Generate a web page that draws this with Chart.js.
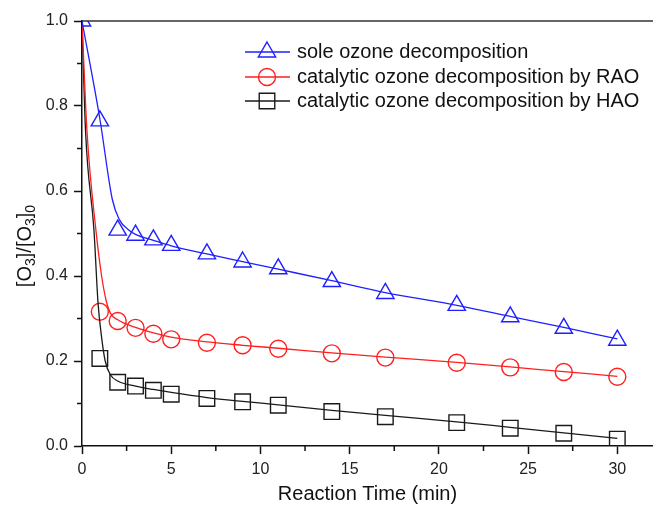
<!DOCTYPE html>
<html>
<head>
<meta charset="utf-8">
<script src="https://cdn.jsdelivr.net/npm/chart.js@4.4.0/dist/chart.umd.min.js"></script>
<style>
  body { margin: 0; background: #fff; }
  canvas { display: block; }
</style>
</head>
<body>
<canvas id="ozone__chart" width="653" height="508"></canvas>
<script>
// sampling times (min) of the measured points
const times = [0, 1, 2, 3, 4, 5, 7, 9, 11, 14, 17, 21, 24, 27, 30];
const soleOzone = [1.0, 0.765, 0.508, 0.496, 0.485, 0.472, 0.452, 0.433, 0.417, 0.387, 0.359, 0.331, 0.304, 0.277, 0.249];
const raoOzone = [null, 0.316, 0.294, 0.278, 0.264, 0.251, 0.243, 0.237, 0.229, 0.218, 0.208, 0.196, 0.185, 0.174, 0.163];
const haoOzone = [null, 0.206, 0.150, 0.141, 0.131, 0.122, 0.112, 0.104, 0.096, 0.081, 0.069, 0.055, 0.042, 0.030, 0.016];

// fitted curves
const soleFitT = [0, 1, 1.7, 2.1, 2.6, 3, 4, 5, 7, 9, 11, 14, 17, 21, 24, 27, 30];
const soleFit = [1.0, 0.77, 0.58, 0.532, 0.509, 0.498, 0.484, 0.471, 0.452, 0.434, 0.416, 0.389, 0.361, 0.331, 0.305, 0.279, 0.252];
const raoFitT = [0, 0.28, 0.78, 1.1, 1.35, 1.6, 2, 3, 4, 5, 7, 9, 11, 14, 17, 21, 24, 27, 30];
const raoFit = [1.0, 0.74, 0.508, 0.4, 0.343, 0.312, 0.297, 0.279, 0.266, 0.256, 0.245, 0.237, 0.23, 0.219, 0.209, 0.197, 0.186, 0.175, 0.164];
const haoFitT = [0, 0.2, 0.67, 0.9, 1.1, 1.3, 1.6, 2, 3, 4, 5, 7, 9, 11, 14, 17, 21, 24, 27, 30];
const haoFit = [1.0, 0.74, 0.508, 0.336, 0.255, 0.2, 0.167, 0.153, 0.141, 0.133, 0.126, 0.114, 0.105, 0.097, 0.084, 0.072, 0.057, 0.044, 0.031, 0.018];

const seriesLabels = [
  'sole ozone decomposition',
  'catalytic ozone decomposition by RAO',
  'catalytic ozone decomposition by HAO'
];

const BLUE = '#1f1fff';
const RED = '#ff1f1f';
const BLACK = '#1a1a1a';

function toPoints(xs, ys) {
  return xs.map((x, i) => ({ x: x, y: ys[i] }));
}

function fitSet(xs, ys, color) {
  return {
    data: toPoints(xs, ys),
    showLine: true,
    borderColor: color,
    borderWidth: 1.3,
    pointRadius: 0,
    cubicInterpolationMode: 'monotone',
    clip: 0
  };
}

function markerSet(label, ys, color, style, radius) {
  return {
    label: label,
    data: toPoints(times, ys),
    showLine: false,
    borderColor: color,
    backgroundColor: 'transparent',
    pointStyle: style,
    pointRadius: radius,
    pointBorderWidth: 1.4,
    clip: 0
  };
}

// legend, top frame line, minor ticks and the y title (with subscripts)
const extras = {
  id: 'extras',
  afterDraw(chart) {
    const ctx = chart.ctx;
    const area = chart.chartArea;
    const xs = chart.scales.x;
    const ys = chart.scales.y;
    ctx.save();

    // top frame line
    ctx.strokeStyle = '#333';
    ctx.lineWidth = 1.5;
    ctx.beginPath();
    ctx.moveTo(area.left, area.top);
    ctx.lineTo(chart.width, area.top);
    ctx.stroke();

    // minor ticks
    ctx.strokeStyle = '#111';
    ctx.lineWidth = 1.5;
    ctx.beginPath();
    for (let v = 2.5; v < xs.max; v += 5) {
      const px = xs.getPixelForValue(v);
      ctx.moveTo(px, area.bottom);
      ctx.lineTo(px, area.bottom + 5);
    }
    for (let v = 0.1; v < ys.max; v += 0.2) {
      const py = ys.getPixelForValue(v);
      ctx.moveTo(area.left, py);
      ctx.lineTo(area.left - 5, py);
    }
    ctx.stroke();

    // legend
    const rows = [52, 77, 101];
    const markers = chart.data.datasets.filter(d => d.label);
    markers.forEach((d, i) => {
      const y = rows[i];
      ctx.strokeStyle = d.borderColor;
      ctx.lineWidth = 1.3;
      ctx.beginPath();
      ctx.moveTo(245, y);
      ctx.lineTo(290, y);
      ctx.stroke();
      ctx.fillStyle = 'transparent';
      ctx.lineWidth = 1.4;
      Chart.helpers.drawPoint(ctx, {
        pointStyle: d.pointStyle, radius: d.pointRadius, borderWidth: 1.4, rotation: 0
      }, 267, y);
      ctx.fillStyle = '#111';
      ctx.font = '20px "Liberation Sans", Arial, sans-serif';
      ctx.textBaseline = 'middle';
      ctx.textAlign = 'left';
      ctx.fillText(d.label, 297, y);
    });

    // y title: [O3]/[O3]0
    const parts = [
      ['[O', false], ['3', true], [']/[O', false], ['3', true], [']', false], ['0', true]
    ];
    const big = '20px "Liberation Sans", Arial, sans-serif';
    const small = '14px "Liberation Sans", Arial, sans-serif';
    let total = 0;
    parts.forEach(p => {
      ctx.font = p[1] ? small : big;
      total += ctx.measureText(p[0]).width;
    });
    ctx.translate(0, 246);
    ctx.rotate(-Math.PI / 2);
    ctx.fillStyle = '#111';
    ctx.textBaseline = 'alphabetic';
    ctx.textAlign = 'left';
    let u = -total / 2;
    parts.forEach(p => {
      ctx.font = p[1] ? small : big;
      ctx.fillText(p[0], u, p[1] ? 35 : 31);
      u += ctx.measureText(p[0]).width;
    });
    ctx.restore();
  }
};

Chart.defaults.font.family = '"Liberation Sans", Arial, sans-serif';
Chart.defaults.color = '#111';

const ctx = document.getElementById('ozone__chart').getContext('2d');
const ozoneChart = new Chart(ctx, {
  type: 'scatter',
  data: {
    datasets: [
      fitSet(soleFitT, soleFit, BLUE),
      fitSet(raoFitT, raoFit, RED),
      fitSet(haoFitT, haoFit, BLACK),
      markerSet(seriesLabels[0], soleOzone, BLUE, 'triangle', 10),
      markerSet(seriesLabels[1], raoOzone, RED, 'circle', 8.5),
      markerSet(seriesLabels[2], haoOzone, BLACK, 'rect', 11)
    ]
  },
  options: {
    responsive: false,
    animation: false,
    devicePixelRatio: 1,
    layout: {
      autoPadding: false,
      padding: { top: 21, left: 0, right: 0, bottom: 0 }
    },
    plugins: {
      legend: { display: false },
      tooltip: { enabled: false }
    },
    scales: {
      x: {
        type: 'linear',
        min: 0,
        max: 32,
        afterFit: (scale) => {
          scale.height = 62;
          scale.paddingRight = 0;
          scale.paddingLeft = 0;
        },
        ticks: {
          stepSize: 5,
          includeBounds: false,
          padding: 6,
          font: { size: 16 },
          color: '#222'
        },
        grid: {
          drawOnChartArea: false,
          drawTicks: true,
          tickLength: 8,
          tickWidth: 1.5,
          tickColor: '#111'
        },
        border: { display: true, color: '#111', width: 1.5 },
        title: {
          display: true,
          text: 'Reaction Time (min)',
          font: { size: 20 },
          padding: { top: 0, bottom: 2 }
        }
      },
      y: {
        min: 0,
        max: 1,
        afterFit: (scale) => { scale.width = 82; },
        ticks: {
          stepSize: 0.2,
          padding: 6,
          font: { size: 16 },
          color: '#222',
          callback: (value) => value.toFixed(1)
        },
        grid: {
          drawOnChartArea: false,
          drawTicks: true,
          tickLength: 8,
          tickWidth: 1.5,
          tickColor: '#111'
        },
        border: { display: true, color: '#111', width: 1.5 }
      }
    }
  },
  plugins: [extras]
});
</script>
</body>
</html>
